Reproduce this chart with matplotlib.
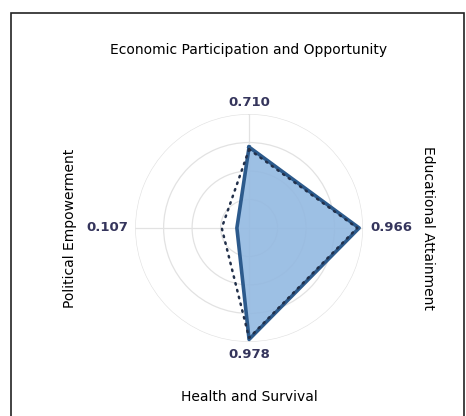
import numpy as np
import matplotlib.pyplot as plt
from matplotlib.patches import Rectangle

categories = ['Economic Participation and Opportunity', 'Educational Attainment',
              'Health and Survival', 'Political Empowerment']
scores = [0.710, 0.966, 0.978, 0.107]
reference = [0.69, 0.95, 0.965, 0.24]
value_labels = ['0.710', '0.966', '0.978', '0.107']

fig = plt.figure(figsize=(4.66, 4.16), dpi=100)
fig.patches.append(Rectangle((11 / 466, -0.1), 453 / 466, 1.1 - 13 / 416,
                             transform=fig.transFigure, fill=False,
                             edgecolor='#222222', linewidth=1.2))

ax = fig.add_axes([0.290, 0.178, 0.489, 0.548], projection='polar')
ax.set_theta_zero_location('N')
ax.set_theta_direction(-1)

theta = np.arange(len(categories)) * 2 * np.pi / len(categories)
t_closed = np.append(theta, theta[0])

ax.fill(t_closed, scores + scores[:1], color='#93b9e1', alpha=0.9, zorder=2)
ax.plot(t_closed, scores + scores[:1], color='#2c5a8c', linewidth=2.6,
        solid_joinstyle='round', zorder=3)
ax.plot(t_closed, reference + reference[:1], color='#22304a', linewidth=1.8,
        linestyle=(0, (0.6, 2.2)), dash_capstyle='round', zorder=4)

ax.set_ylim(0, 1)
ax.set_yticks([0.25, 0.5, 0.75, 1.0])
ax.set_yticklabels([])
ax.set_xticks(theta)
ax.set_xticklabels([])
ax.grid(color='#e2e2e2', linewidth=0.9)
ax.spines['polar'].set_visible(False)

# value labels just outside each axis
offsets = [(0, 1.10), (np.pi / 2, 1.25), (np.pi, 1.11), (3 * np.pi / 2, 1.24)]
for (ang, r), lab in zip(offsets, value_labels):
    ax.text(ang, r, lab, ha='center', va='center', fontsize=9.5,
            color='#35355c', fontweight='bold')

fig.text(249 / 466, 1 - 50 / 416, categories[0], ha='center', va='center', fontsize=10)
fig.text(428 / 466, 1 - 228 / 416, categories[1], ha='center', va='center',
         fontsize=10, rotation=-90)
fig.text(249 / 466, 1 - 397 / 416, categories[2], ha='center', va='center', fontsize=10)
fig.text(70 / 466, 1 - 228 / 416, categories[3], ha='center', va='center',
         fontsize=10, rotation=90)

plt.savefig('out.png', dpi=100)
